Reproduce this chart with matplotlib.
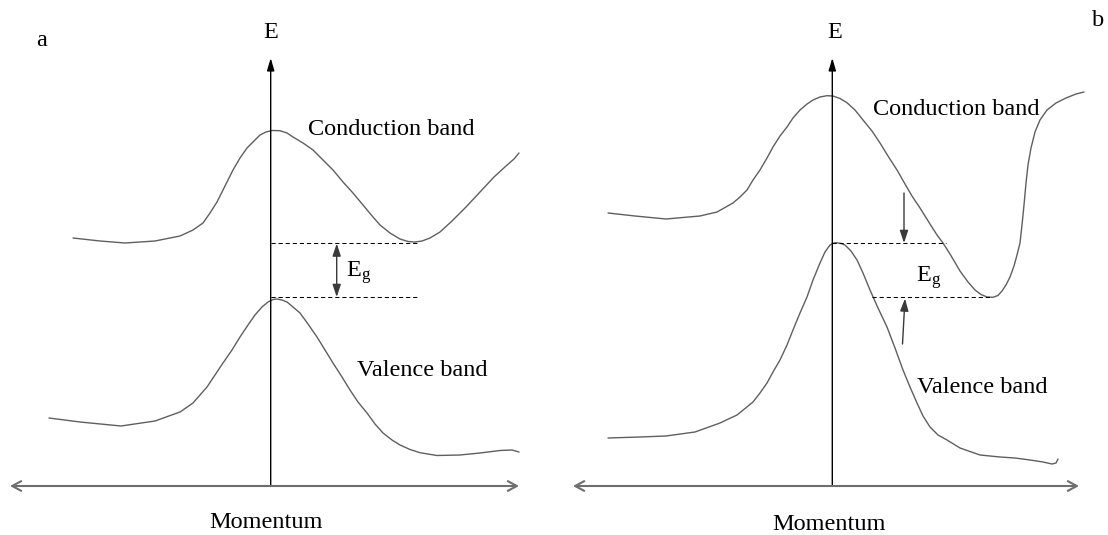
import matplotlib
matplotlib.use("Agg")
import matplotlib.pyplot as plt

# ---------------- data (image pixel frame) ----------------
cb_a_x = [73, 100, 125, 155, 180, 193, 203, 210, 217, 223, 233, 240, 247, 254, 260, 266, 272, 280, 287, 293, 303, 313, 323, 333, 343, 353, 363, 373, 380, 390, 400, 408, 415, 422, 430, 440, 452, 466, 480, 494, 506, 514, 519]
cb_a_y = [238, 241, 243, 241, 236, 230, 223, 213, 202, 190, 170, 158, 148, 141, 135, 132, 130.5, 130.7, 133, 137, 143, 150, 160, 170, 182, 193, 205, 217, 225, 233, 239, 241.5, 242, 241, 238, 232, 221, 207, 192, 177, 166, 159, 153]

vb_a_x = [49, 80, 121, 155, 180, 193, 207, 215, 223, 232, 240, 248, 255, 262, 268, 273, 277, 282, 287, 293, 300, 308, 317, 325, 333, 342, 350, 358, 367, 375, 383, 392, 400, 410, 420, 437, 460, 480, 500, 512, 519]
vb_a_y = [418, 422, 426, 421, 412, 403, 387, 375, 363, 350, 337, 325, 315, 307, 302, 299.5, 299, 300, 302, 307, 313, 324, 337, 350, 363, 377, 390, 402, 413, 424, 433, 440, 445, 449.5, 452.7, 455.5, 455, 453, 450.5, 450, 452]

cb_b_x = [608, 635, 666, 700, 717, 733, 740, 747, 753, 760, 767, 773, 780, 787, 793, 800, 807, 813, 820, 827, 833, 840, 847, 855, 863, 872, 880, 888, 897, 905, 912, 920, 930, 937, 943, 950, 960, 968, 975, 981, 987, 993, 998, 1002, 1006, 1010, 1014, 1017, 1020, 1022, 1024, 1026, 1028, 1031, 1035, 1040, 1047, 1056, 1066, 1076, 1084]
cb_b_y = [213, 216, 219, 216, 212, 203, 197, 190, 180, 170, 158, 147, 136, 127, 118, 110, 104, 100, 97, 95.7, 96, 98.5, 102.7, 110, 120, 131, 143, 156, 170, 184, 196, 208, 224, 235, 243, 254, 271, 282, 290, 294.5, 297, 297.3, 295.5, 291, 285, 277, 266, 255, 243, 225, 205, 183, 165, 148, 132, 120, 110, 103, 98, 94, 92]

vb_b_x = [608, 640, 666, 695, 720, 737, 753, 760, 767, 773, 780, 787, 793, 800, 807, 813, 820, 825, 830, 834, 837, 841, 845, 851, 857, 863, 870, 878, 887, 895, 903, 910, 917, 923, 930, 938, 947, 960, 980, 1000, 1015, 1030, 1043, 1052, 1056, 1058]
vb_b_y = [438, 437, 436, 432, 423, 415, 402, 393, 383, 372, 360, 345, 330, 313, 297, 280, 263, 252, 245, 243, 242.7, 243.5, 245, 251, 260, 273, 290, 308, 327, 348, 370, 387, 403, 416, 427, 435, 440, 448, 455, 457, 458, 460, 462, 464, 463, 459]

panel_labels = ["a", "b"]
band_labels = ["Conduction band", "Valence band"]
axis_labels = ["E", "Momentum"]
gap_label = r"$\mathrm{E_g}$"

# ---------------- figure ----------------
plt.rcParams["font.family"] = ["Liberation Serif", "DejaVu Serif"]
plt.rcParams["mathtext.fontset"] = "custom"
plt.rcParams["mathtext.rm"] = "Liberation Serif"
plt.rcParams["mathtext.it"] = "Liberation Serif:italic"

fig = plt.figure(figsize=(11.08, 5.35), dpi=100)
ax = fig.add_axes([0, 0, 1, 1])
ax.set_xlim(0, 1108)
ax.set_ylim(535, 0)
ax.axis("off")

curve_kw = dict(color="#5f5f5f", lw=1.0, solid_capstyle="round", solid_joinstyle="round")
ax.plot(cb_a_x, cb_a_y, **curve_kw)
ax.plot(vb_a_x, vb_a_y, **curve_kw)
ax.plot(cb_b_x, cb_b_y, **curve_kw)
ax.plot(vb_b_x, vb_b_y, **curve_kw)

FS = 17.5

def axes_arrows(x0, xl, xr, ytop, ybase):
    # vertical E axis
    ax.annotate("", xy=(x0, ytop), xytext=(x0, ybase),
                arrowprops=dict(arrowstyle="-|>,head_length=0.75,head_width=0.22",
                                color="black", lw=1.0, shrinkA=0, shrinkB=0,
                                mutation_scale=10))
    # horizontal momentum axis
    ax.annotate("", xy=(xl, ybase), xytext=(xr, ybase),
                arrowprops=dict(arrowstyle="<->,head_length=0.65,head_width=0.35",
                                color="#6e6e6e", lw=1.5, shrinkA=0, shrinkB=0,
                                mutation_scale=10))

axes_arrows(270.7, 10, 519, 58, 486)
axes_arrows(832.3, 573, 1079, 58, 486)

dash_kw = dict(color="black", lw=0.75, linestyle=(0, (4, 2.8)))
# panel a gap lines
ax.plot([270.7, 417], [243.3, 243.3], **dash_kw)
ax.plot([270.7, 417], [297.3, 297.3], **dash_kw)
# panel b gap lines
ax.plot([832.3, 946], [243.3, 243.3], **dash_kw)
ax.plot([872, 990], [297.3, 297.3], **dash_kw)

# Eg arrows
ax.annotate("", xy=(336.7, 243.5), xytext=(336.7, 297.0),
            arrowprops=dict(arrowstyle="<|-|>,head_length=0.75,head_width=0.25",
                            color="#3a3a3a", lw=1.0, shrinkA=0, shrinkB=0, mutation_scale=10))
ax.annotate("", xy=(904, 243.0), xytext=(904, 193),
            arrowprops=dict(arrowstyle="-|>,head_length=0.75,head_width=0.25",
                            color="#3a3a3a", lw=1.0, shrinkA=0, shrinkB=0, mutation_scale=10))
ax.annotate("", xy=(905, 298.5), xytext=(902.5, 344),
            arrowprops=dict(arrowstyle="-|>,head_length=0.75,head_width=0.25",
                            color="#3a3a3a", lw=1.0, shrinkA=0, shrinkB=0, mutation_scale=10))

# texts
ax.text(42, 45.5, panel_labels[0], fontsize=FS, ha="center", va="baseline")
ax.text(1098, 26, panel_labels[1], fontsize=FS, ha="center", va="baseline")
ax.text(270.7, 38, axis_labels[0], fontsize=FS, ha="center", va="baseline")
ax.text(834.7, 38, axis_labels[0], fontsize=FS, ha="center", va="baseline")
ax.text(266, 528, axis_labels[1], fontsize=FS, ha="center", va="baseline")
ax.text(829.5, 534.5, axis_labels[1], fontsize=FS, ha="center", va="bottom")
ax.text(391, 135, band_labels[0], fontsize=FS, ha="center", va="baseline")
ax.text(422, 376, band_labels[1], fontsize=FS, ha="center", va="baseline")
ax.text(956, 115, band_labels[0], fontsize=FS, ha="center", va="baseline")
ax.text(982, 393, band_labels[1], fontsize=FS, ha="center", va="baseline")
ax.text(346.5, 276.7, gap_label, fontsize=FS, ha="left", va="baseline")
ax.text(916.5, 281.7, gap_label, fontsize=FS, ha="left", va="baseline")

fig.savefig("out.png", dpi=100)
